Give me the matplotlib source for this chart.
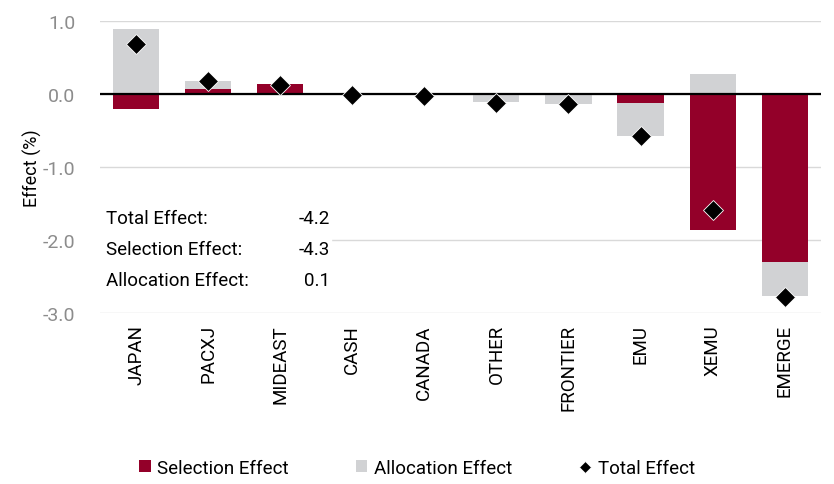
import numpy as np
import matplotlib.pyplot as plt

plt.rcParams['font.family'] = ['Roboto', 'DejaVu Sans']

categories = ["JAPAN", "PACXJ", "MIDEAST", "CASH", "CANADA", "OTHER",
              "FRONTIER", "EMU", "XEMU", "EMERGE"]
selection = [-0.20, 0.07, 0.14, 0.00, 0.00, 0.00, 0.00, -0.12, -1.86, -2.30]
allocation = [0.89, 0.11, 0.00, 0.00, 0.00, -0.11, -0.13, -0.45, 0.27, -0.47]
total = [0.69, 0.18, 0.13, -0.01, -0.03, -0.12, -0.14, -0.57, -1.59, -2.78]
summary_labels = ["Total Effect:", "Selection Effect:", "Allocation Effect:"]
summary_values = ["-4.2", "-4.3", "0.1"]

RED = "#930029"
GREY = "#D1D2D4"


def main():
    sel = np.array(selection)
    alc = np.array(allocation)
    x = np.arange(len(categories))

    fig = plt.figure(figsize=(8.34, 4.85), dpi=100)
    ax = fig.add_axes([0.12, 0.3526, 0.864, 0.6020])

    # excel style stacking: positives up from 0, negatives down from 0
    sel_base = np.zeros(len(x))
    alc_base = np.where(np.sign(alc) == np.sign(sel), sel, 0.0)
    w = 0.64
    b1 = ax.bar(x, sel, w, bottom=sel_base, color=RED, label="Selection Effect", zorder=2)
    b2 = ax.bar(x, alc, w, bottom=alc_base, color=GREY, label="Allocation Effect", zorder=2)
    mk, = ax.plot(x, total, linestyle='none', marker='D', markersize=10, color='black',
                  markeredgecolor='white', markeredgewidth=0.6, label="Total Effect", zorder=4)

    ax.axhline(0, color='black', linewidth=1.6, zorder=3)
    ax.set_ylim(-3.0, 1.0)
    ax.set_xlim(-0.5, len(x) - 0.5)
    ax.set_yticks([1.0, 0.0, -1.0, -2.0, -3.0])
    ax.set_yticklabels(["1.0", "0.0", "-1.0", "-2.0", "-3.0"])
    ax.yaxis.grid(True, color='#D9D9D9', linewidth=1, zorder=0)
    ax.set_axisbelow(True)
    ax.set_xticks(x)
    ax.set_xticklabels(categories, rotation=90, fontsize=13.5)
    ax.tick_params(axis='y', colors='#8C8C8C', labelsize=14, length=0, pad=18)
    ax.tick_params(axis='x', length=0, pad=8, labelcolor='black')
    for s in ax.spines.values():
        s.set_visible(False)
    ax.set_ylabel("Effect (%)", fontsize=13, labelpad=0)

    # summary box
    ax.fill_between([-0.5, 2.7], -2.75, -1.45, color='white', zorder=1)
    for i, (lab, val) in enumerate(zip(summary_labels, summary_values)):
        yy = -1.7 - i * 0.425
        ax.text(-0.42, yy, lab, fontsize=13.5, va='center', ha='left', zorder=5)
        ax.text(2.69, yy, val, fontsize=13.5, va='center', ha='right', zorder=5)

    fig.legend([b1, b2, mk], ["Selection Effect", "Allocation Effect", "Total Effect"],
               loc='lower center', bbox_to_anchor=(0.5, -0.02),
               ncol=3, frameon=False, fontsize=13.5, handlelength=0.6,
               handleheight=0.6, handletextpad=0.35, columnspacing=3.6,
               markerscale=0.6)

    fig.savefig("out.png", dpi=100)


if __name__ == "__main__":
    main()
